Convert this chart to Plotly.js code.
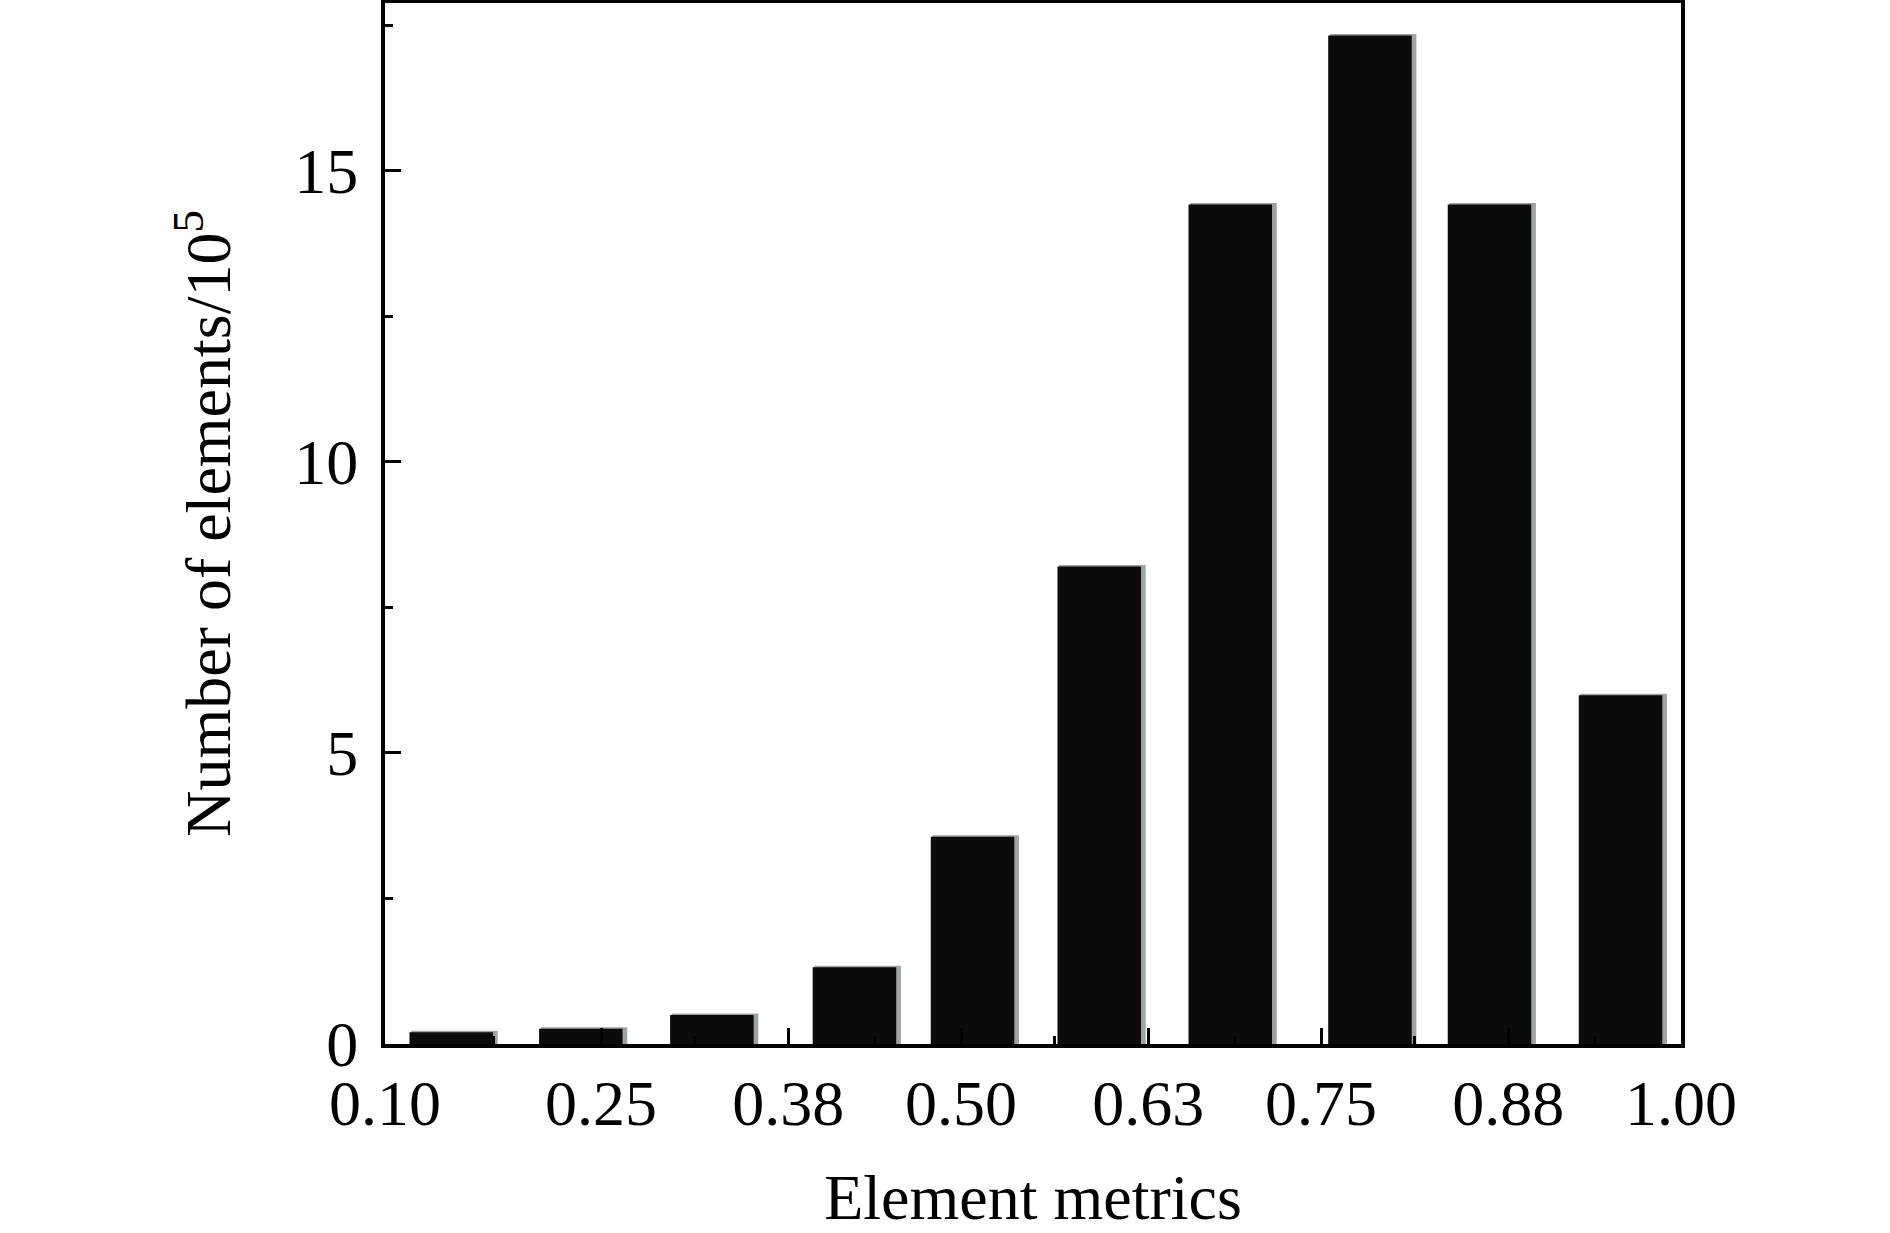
<!DOCTYPE html>
<html>
<head>
<meta charset="utf-8">
<script src="https://cdn.plot.ly/plotly-3.0.1.min.js"></script>
<style>
html,body{margin:0;padding:0;background:#fff;}
#chart{width:1890px;height:1233px;}
</style>
</head>
<body>
<div id="chart"></div>
<script>
// ---- data ----
const binCenters = [0.146, 0.236, 0.327, 0.426, 0.508, 0.596, 0.687, 0.784, 0.867, 0.958];
const counts     = [0.20, 0.26, 0.50, 1.32, 3.56, 8.20, 14.42, 17.32, 14.42, 5.99];
const xTickVals  = [0.10, 0.25, 0.38, 0.50, 0.63, 0.75, 0.88, 1.00];
const xTickText  = ['0.10', '0.25', '0.38', '0.50', '0.63', '0.75', '0.88', '1.00'];
const yTickVals  = [0, 5, 10, 15];
const yTickText  = ['0', '5', '10', '15'];
const xTitle = 'Element metrics';
const yTitle = 'Number of elements/10<sup>5</sup>';

// ---- styling ----
const BAR_W = 0.058;
const SHADOW_SHIFT = 0.0022;
const FONT = 'Liberation Serif, Times New Roman, serif';

// minor x ticks midway between labelled ticks
const xMinor = [];
for (let i = 0; i < xTickVals.length - 1; i++) {
  xMinor.push((xTickVals[i] + xTickVals[i + 1]) / 2);
}

const shadow = {
  type: 'bar',
  x: binCenters,
  y: counts,
  width: BAR_W,
  offset: -BAR_W / 2 + SHADOW_SHIFT,
  marker: {color: '#9ea3a3', line: {color: '#9ea3a3', width: 3}},
  hoverinfo: 'skip',
  showlegend: false
};
const bars = {
  type: 'bar',
  x: binCenters,
  y: counts,
  width: BAR_W,
  offset: -BAR_W / 2,
  marker: {color: '#0b0b0c', line: {width: 0}},
  showlegend: false
};

const layout = {
  width: 1890,
  height: 1233,
  margin: {l: 385, r: 209, t: 3, b: 189, pad: 0},
  paper_bgcolor: '#ffffff',
  plot_bgcolor: '#ffffff',
  barmode: 'overlay',
  showlegend: false,
  font: {family: FONT, size: 64, color: '#000'},
  xaxis: {
    range: [0.1, 1.0],
    tickmode: 'array',
    tickvals: xTickVals,
    ticktext: xTickText,
    ticks: 'inside',
    ticklen: 16,
    tickwidth: 3,
    tickcolor: '#000',
    ticklabelstandoff: 0,
    showline: true,
    linewidth: 4,
    linecolor: '#000',
    mirror: true,
    showgrid: false,
    zeroline: false,
    tickfont: {family: FONT, size: 64, color: '#000'},
    minor: {tickmode: 'array', tickvals: xMinor, ticks: 'inside', ticklen: 8, tickwidth: 3, tickcolor: '#000', showgrid: false},
    title: {text: xTitle, font: {family: FONT, size: 64, color: '#000'}, standoff: 38}
  },
  yaxis: {
    range: [0, 17.88],
    tickmode: 'array',
    tickvals: yTickVals,
    ticktext: yTickText,
    ticks: 'inside',
    ticklen: 16,
    tickwidth: 3,
    tickcolor: '#000',
    ticklabelstandoff: 10,
    showline: true,
    linewidth: 4,
    linecolor: '#000',
    mirror: true,
    showgrid: false,
    zeroline: false,
    tickfont: {family: FONT, size: 64, color: '#000'},
    minor: {dtick: 2.5, tick0: 0, ticks: 'inside', ticklen: 8, tickwidth: 3, tickcolor: '#000', showgrid: false},
    title: {text: yTitle, font: {family: FONT, size: 64, color: '#000'}, standoff: 44}
  }
};

Plotly.newPlot('chart', [shadow, bars], layout, {displayModeBar: false, staticPlot: true});
</script>
</body>
</html>
